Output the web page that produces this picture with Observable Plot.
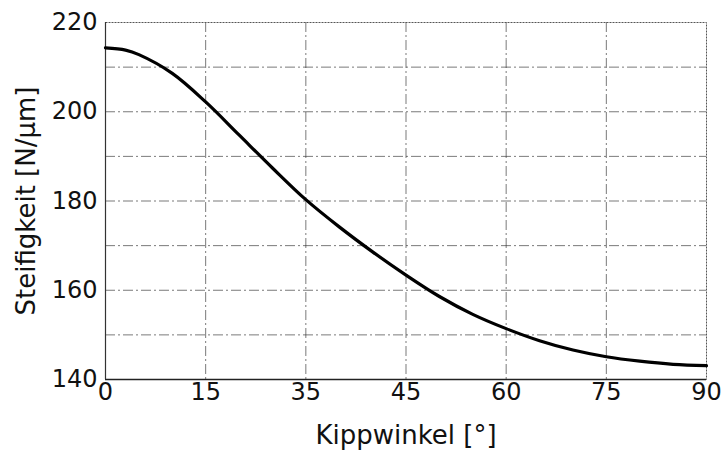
<!DOCTYPE html>
<html>
<head>
<meta charset="utf-8">
<script src="https://cdn.jsdelivr.net/npm/d3@7"></script>
<script src="https://cdn.jsdelivr.net/npm/@observablehq/plot@0.6"></script>
<style>
  html, body { margin: 0; padding: 0; background: #fff; }
</style>
</head>
<body>
<div id="chart"></div>
<script>
const angles    = [0, 3, 5, 10, 15, 20, 25, 30, 35, 40, 45, 50, 55, 60, 65, 70, 75, 80, 85, 90];
const stiffness = [214.3, 213.8, 212.8, 208.6, 202.2, 194.8, 187.4, 180.3, 174.2, 168.6, 163.4, 158.6, 154.6, 151.4, 148.7, 146.6, 145.1, 144.1, 143.4, 143.1];

const xTicks = [0, 15, 30, 45, 60, 75, 90];
const xTickLabels = ["0", "15", "35", "45", "60", "75", "90"];
const yTicks = [140, 160, 180, 200, 220];
const xGrid = [15, 30, 45, 60, 75];
const yGrid = [150, 160, 170, 180, 190, 200, 210];

const data = angles.map((a, i) => ({ angle: a, value: stiffness[i] }));

const chart = Plot.plot({
  width: 723,
  height: 450,
  marginLeft: 105,
  marginRight: 17,
  marginTop: 22,
  marginBottom: 71,
  style: { fontFamily: "DejaVu Sans, Verdana, sans-serif", fontSize: "24px", color: "#111", background: "#fff" },
  x: { domain: [0, 90] },
  y: { domain: [140, 220] },
  marks: [
    Plot.ruleY(yGrid, { stroke: "#333", strokeWidth: 1, strokeDasharray: "10,3,2,3", strokeOpacity: 0.65 }),
    Plot.ruleX(xGrid, { stroke: "#333", strokeWidth: 1, strokeDasharray: "10,3,2,3", strokeOpacity: 0.65 }),
    Plot.frame({ stroke: "#555", strokeWidth: 1, strokeDasharray: "2,1" }),
    Plot.ruleY([140], { stroke: "#222", strokeWidth: 1.5 }),
    Plot.ruleX([0], { stroke: "#333", strokeWidth: 1.2 }),
    Plot.axisX({
      ticks: xTicks,
      tickFormat: d => xTickLabels[xTicks.indexOf(d)],
      tickSize: 0,
      tickPadding: 3,
      fontSize: 24,
      label: "Kippwinkel [°]",
      labelAnchor: "center",
      labelArrow: "none",
      labelOffset: 64
    }),
    Plot.axisY({
      ticks: yTicks,
      tickSize: 0,
      tickPadding: 8,
      fontSize: 24,
      label: "Steifigkeit [N/µm]",
      labelAnchor: "center",
      labelArrow: "none",
      labelOffset: 89
    }),
    Plot.line(data, { x: "angle", y: "value", stroke: "#000", strokeWidth: 3.2, curve: "catmull-rom" })
  ]
});

// enlarge the axis titles slightly, as in the reference
chart.querySelectorAll("g[aria-label='x-axis label'] text, g[aria-label='y-axis label'] text").forEach(t => {
  t.setAttribute("font-size", "26");
  t.style.fontSize = "26px";
});

document.getElementById("chart").appendChild(chart);
</script>
</body>
</html>
